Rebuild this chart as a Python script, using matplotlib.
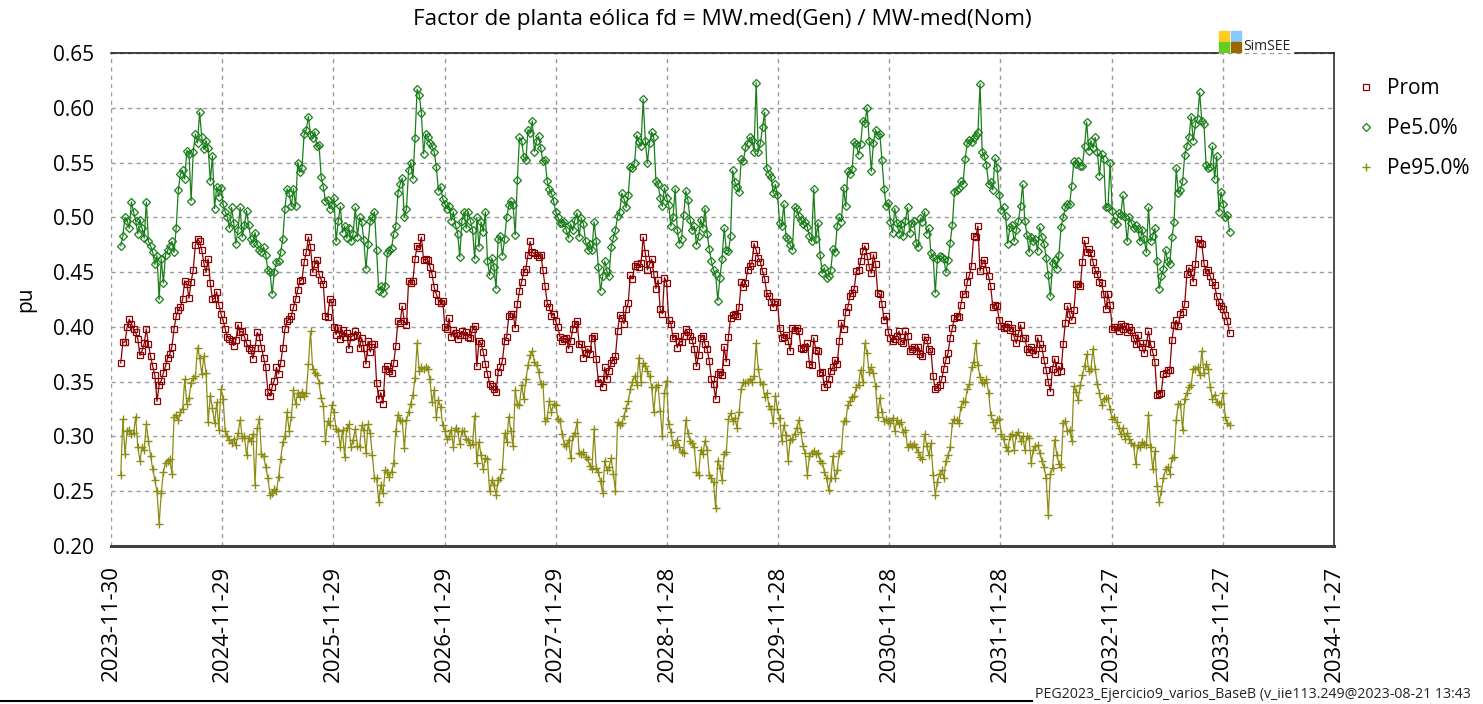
import numpy as np
import pandas as pd
import matplotlib
matplotlib.use("Agg")
import matplotlib.pyplot as plt
from matplotlib.lines import Line2D
from matplotlib.patches import Rectangle
from matplotlib.ticker import FormatStrFormatter

plt.rcParams['font.family'] = ['Open Sans', 'DejaVu Sans']

title = "Factor de planta eólica fd = MW.med(Gen) / MW-med(Nom)"
ylabel = "pu"
series_names = ["Prom", "Pe5.0%", "Pe95.0%"]
footer = "PEG2023_Ejercicio9_varios_BaseB (v_iie113.249@2023-08-21 13:43"
data_start = "2024-01-01"
tick_start = "2023-11-30"
n_ticks = 12
yticks = [0.20, 0.25, 0.30, 0.35, 0.40, 0.45, 0.50, 0.55, 0.60, 0.65]

prom = [
    .367, .386, .386, .400, .407, .403, .398, .395, .389, .374, .378, .385, .398, .384, .373, .364, .356, .332, .347, .351,
    .358, .364, .372, .375, .382, .398, .410, .415, .418, .425, .442, .439, .426, .441, .452, .475, .480, .478, .470, .458,
    .450, .462, .440, .425, .426, .432, .420, .412, .406, .398,
    .391, .389, .387, .383, .388, .402, .395, .396, .391, .385, .381, .379, .371, .381, .395, .391, .381, .372, .363, .341,
    .337, .345, .351, .363, .357, .367, .381, .398, .405, .407, .410, .418, .425, .434, .442, .443, .459, .468, .482, .473,
    .450, .457, .461, .448, .443, .439, .410, .409, .425, .423, .400, .393,
    .399, .389, .397, .391, .394, .380, .391, .392, .396, .393, .381, .390, .381, .366, .387, .377, .384, .384, .349, .334,
    .340, .330, .362, .364, .360, .358, .367, .383, .405, .404, .419, .405, .402, .442, .440, .442, .462, .474, .472, .482,
    .461, .462, .461, .455, .448, .436, .430, .424, .422, .424, .400, .398,
    .408, .391, .397, .394, .389, .393, .396, .393, .395, .391, .390, .398, .401, .364, .387, .385, .377, .366, .357, .348,
    .346, .343, .341, .359, .363, .369, .387, .391, .410, .412, .412, .399, .421, .433, .441, .450, .453, .466, .478, .468,
    .467, .466, .464, .466, .452, .437, .422, .418, .410, .412, .405,
    .400, .391, .387, .389, .390, .380, .387, .398, .403, .405, .384, .384, .372, .376, .380, .375, .390, .392, .371, .349,
    .352, .345, .363, .352, .360, .367, .370, .373, .396, .411, .408, .403, .416, .422, .447, .444, .456, .457, .455, .458,
    .482, .467, .452, .457, .462, .448, .435, .443, .416, .412, .445, .440,
    .406, .403, .390, .392, .381, .387, .386, .392, .398, .395, .392, .388, .380, .364, .374, .390, .392, .384, .380, .369,
    .352, .348, .334, .357, .359, .356, .382, .368, .391, .408, .411, .412, .410, .418, .441, .436, .440, .452, .456, .458,
    .476, .470, .463, .459, .451, .444, .431, .428, .423, .418, .423,
    .423, .399, .390, .391, .393, .387, .378, .399, .397, .399, .396, .381, .380, .382, .385, .366, .365, .390, .379, .378,
    .358, .359, .345, .348, .352, .360, .363, .370, .366, .387, .404, .398, .414, .418, .428, .431, .435, .451, .452, .460,
    .469, .474, .465, .455, .449, .466, .457, .431, .430, .421, .406, .410,
    .395, .390, .387, .389, .392, .396, .387, .385, .396, .392, .378, .380, .382, .378, .382, .375, .373, .391, .388, .380,
    .378, .355, .343, .345, .347, .352, .362, .370, .376, .390, .399, .408, .410, .409, .420, .430, .430, .441, .447, .456,
    .483, .482, .492, .451, .458, .461, .452, .446, .437, .418, .420,
    .419, .406, .401, .399, .400, .403, .397, .399, .391, .385, .394, .402, .390, .390, .380, .377, .382, .379, .375, .390,
    .384, .381, .370, .361, .350, .341, .362, .371, .359, .364, .360, .384, .404, .419, .412, .406, .415, .439, .439, .437,
    .459, .479, .468, .471, .467, .459, .452, .448, .441, .440, .430, .416,
    .430, .420, .398, .400, .400, .396, .403, .398, .401, .395, .400, .397, .390, .384, .393, .385, .382, .376, .385, .396,
    .384, .377, .368, .338, .339, .340, .357, .358, .361, .361, .388, .402, .406, .401, .412, .414, .421, .448, .454, .450,
    .441, .457, .480, .477, .476, .458, .450, .452, .446, .441, .438, .428, .423, .419, .416, .411, .405, .394,
]

pe5 = [
    .474, .483, .500, .497, .490, .514, .505, .497, .485, .498, .490, .481, .514, .478, .474, .468, .457, .465, .425, .462,
    .440, .466, .470, .474, .478, .468, .490, .525, .540, .543, .535, .561, .558, .515, .560, .576, .568, .596, .573, .562,
    .570, .563, .533, .556, .508, .528, .519, .527, .512, .505,
    .500, .490, .509, .495, .476, .488, .509, .482, .493, .506, .493, .480, .477, .486, .476, .470, .468, .473, .466, .452,
    .450, .430, .450, .459, .460, .468, .480, .508, .526, .522, .510, .526, .510, .550, .541, .545, .576, .580, .592, .575,
    .572, .578, .565, .566, .537, .528, .515, .516, .508, .511, .518, .478,
    .497, .510, .486, .492, .481, .490, .478, .485, .509, .482, .500, .496, .479, .453, .476, .497, .500, .505, .470, .433,
    .437, .431, .437, .467, .470, .472, .485, .492, .522, .530, .536, .500, .508, .543, .550, .535, .572, .617, .612, .595,
    .558, .576, .573, .568, .565, .560, .546, .524, .528, .517, .512, .508,
    .510, .497, .505, .493, .485, .464, .497, .505, .490, .505, .497, .488, .462, .500, .473, .496, .487, .505, .460, .447,
    .463, .455, .435, .480, .483, .465, .480, .500, .511, .515, .511, .484, .534, .573, .570, .555, .552, .580, .577, .588,
    .560, .570, .574, .563, .551, .552, .533, .526, .522, .515, .505,
    .500, .495, .495, .496, .488, .481, .494, .488, .498, .504, .482, .499, .494, .478, .470, .476, .470, .496, .478, .455,
    .433, .446, .460, .451, .446, .473, .481, .488, .501, .505, .522, .517, .509, .520, .546, .545, .550, .575, .569, .565,
    .608, .570, .550, .568, .578, .573, .533, .530, .518, .510, .527, .518,
    .511, .492, .500, .526, .488, .476, .480, .502, .524, .516, .498, .488, .492, .475, .483, .498, .490, .508, .485, .471,
    .460, .452, .448, .424, .445, .462, .490, .470, .469, .483, .543, .532, .528, .523, .553, .551, .564, .568, .573, .571,
    .560, .623, .560, .568, .582, .596, .545, .540, .537, .522, .530,
    .520, .495, .492, .512, .482, .480, .475, .470, .509, .508, .501, .498, .494, .496, .491, .483, .478, .526, .480, .495,
    .466, .449, .454, .445, .446, .452, .471, .468, .492, .500, .496, .527, .510, .542, .540, .544, .569, .567, .557, .567,
    .588, .586, .600, .570, .542, .568, .580, .575, .576, .552, .526, .510,
    .513, .496, .486, .508, .495, .485, .494, .483, .497, .509, .486, .495, .497, .477, .473, .499, .496, .505, .485, .490,
    .467, .464, .431, .462, .465, .464, .462, .450, .461, .477, .493, .523, .525, .527, .533, .530, .553, .568, .571, .569,
    .572, .575, .578, .622, .560, .556, .548, .530, .532, .525, .554,
    .545, .520, .507, .509, .501, .476, .491, .493, .478, .488, .497, .510, .530, .497, .484, .468, .482, .478, .480, .469,
    .491, .482, .476, .463, .447, .428, .458, .461, .453, .466, .491, .500, .509, .512, .512, .529, .551, .549, .551, .547,
    .547, .565, .587, .561, .570, .563, .573, .560, .538, .558, .553, .509,
    .509, .550, .506, .497, .494, .504, .502, .520, .500, .478, .500, .495, .490, .493, .489, .478, .488, .480, .468, .509,
    .478, .483, .490, .460, .435, .446, .453, .470, .460, .457, .482, .496, .545, .522, .525, .533, .557, .565, .573, .592,
    .570, .585, .590, .614, .588, .585, .548, .545, .546, .565, .535, .556, .505, .523, .512, .500, .502, .487,
]

pe95 = [
    .265, .316, .284, .305, .306, .302, .303, .318, .290, .278, .290, .288, .311, .296, .282, .270, .260, .250, .220, .248,
    .268, .276, .278, .279, .266, .318, .320, .315, .322, .325, .352, .330, .335, .349, .353, .355, .381, .372, .357, .373,
    .358, .313, .337, .326, .312, .331, .306, .343, .334, .305,
    .300, .297, .294, .298, .292, .303, .315, .299, .300, .283, .299, .296, .302, .256, .308, .316, .284, .282, .272, .262,
    .247, .248, .252, .250, .263, .279, .295, .300, .322, .305, .318, .342, .330, .340, .336, .341, .337, .340, .366, .396,
    .362, .358, .356, .349, .335, .328, .296, .314, .310, .329, .322, .307,
    .305, .290, .306, .281, .308, .311, .290, .297, .307, .291, .290, .310, .306, .285, .311, .303, .283, .262, .262, .240,
    .256, .248, .269, .268, .263, .268, .276, .305, .320, .315, .314, .289, .315, .322, .330, .338, .353, .385, .360, .363,
    .362, .363, .362, .352, .331, .342, .318, .333, .327, .310, .305, .298,
    .300, .306, .290, .308, .305, .293, .305, .305, .298, .297, .292, .293, .319, .276, .295, .283, .270, .280, .279, .250,
    .260, .256, .247, .260, .262, .270, .303, .295, .318, .305, .291, .342, .330, .329, .347, .334, .352, .365, .374, .378,
    .368, .365, .359, .348, .348, .314, .317, .332, .322, .330, .329,
    .316, .314, .302, .293, .291, .297, .280, .300, .303, .313, .285, .284, .286, .281, .279, .273, .270, .307, .271, .268,
    .259, .248, .278, .269, .272, .280, .266, .250, .313, .310, .312, .319, .326, .332, .343, .350, .355, .347, .372, .350,
    .367, .364, .360, .355, .345, .322, .345, .347, .323, .300, .340, .351,
    .311, .304, .292, .292, .297, .290, .286, .285, .315, .303, .296, .294, .290, .268, .265, .288, .284, .296, .288, .265,
    .262, .258, .235, .278, .271, .260, .284, .286, .316, .321, .314, .317, .308, .322, .343, .350, .349, .350, .352, .350,
    .355, .385, .362, .350, .348, .336, .340, .328, .325, .312, .337,
    .325, .317, .296, .310, .301, .278, .297, .298, .302, .308, .315, .304, .291, .285, .265, .282, .285, .287, .284, .285,
    .278, .276, .268, .262, .251, .262, .282, .262, .269, .285, .287, .314, .314, .329, .332, .336, .337, .345, .347, .361,
    .350, .385, .376, .359, .363, .358, .346, .318, .335, .322, .314, .316,
    .314, .312, .317, .305, .315, .311, .313, .304, .306, .290, .293, .291, .293, .290, .286, .281, .279, .302, .291, .283,
    .294, .265, .247, .258, .266, .269, .262, .278, .283, .290, .312, .316, .315, .312, .327, .332, .331, .343, .348, .363,
    .368, .385, .365, .354, .350, .349, .352, .340, .320, .313, .308,
    .315, .316, .302, .298, .290, .287, .300, .302, .288, .301, .304, .296, .300, .288, .300, .299, .276, .288, .291, .292,
    .285, .278, .272, .262, .228, .266, .271, .297, .283, .275, .272, .312, .314, .305, .306, .296, .346, .341, .333, .347,
    .356, .364, .375, .360, .362, .380, .362, .348, .340, .329, .334, .335,
    .335, .325, .316, .318, .313, .308, .302, .308, .298, .303, .298, .294, .292, .275, .292, .290, .295, .293, .292, .320,
    .290, .270, .287, .255, .240, .250, .262, .270, .272, .266, .280, .281, .315, .330, .330, .306, .334, .340, .345, .347,
    .362, .362, .363, .356, .378, .358, .366, .362, .345, .334, .338, .331, .330, .330, .340, .318, .312, .310,
]

W, H = 1483, 704
fig = plt.figure(figsize=(W / 100, H / 100), dpi=100)
ax_l, ax_r, ax_t, ax_b = 111, 1334, 53, 546
ax = fig.add_axes([ax_l / W, 1 - ax_b / H, (ax_r - ax_l) / W, (ax_b - ax_t) / H])


def weekly(n):
    return pd.date_range(data_start, periods=n, freq="7D")


styles = [
    dict(color="#8b0000", marker="s", ms=5, mfc="none", mew=0.9),
    dict(color="#1a7f1a", marker="D", ms=4.2, mfc="none", mew=0.9),
    dict(color="#8c8c14", marker="+", ms=6, mew=1.0),
]
for vals, st in zip([prom, pe5, pe95], styles):
    ax.plot(weekly(len(vals)), vals, lw=0.9, **st)

ticks = pd.date_range(tick_start, periods=n_ticks, freq="365D")
ax.set_xlim(ticks[0], ticks[-1])
ax.set_xticks(ticks)
ax.set_xticklabels([t.strftime("%Y-%m-%d") for t in ticks], rotation=90, fontsize=16)
ax.set_ylim(0.20, 0.65)
ax.set_yticks(yticks)
ax.yaxis.set_major_formatter(FormatStrFormatter("%.2f"))
ax.tick_params(axis="y", length=0, pad=12, labelsize=15)
ax.tick_params(axis="x", length=0, pad=14)
ax.grid(True, color="#9a9a9a", linestyle=(0, (3, 3)), linewidth=1.0)
ax.set_axisbelow(True)
ax.set_ylabel(ylabel, fontsize=15, labelpad=12)

ax.spines["left"].set_visible(False)
ax.spines["top"].set_visible(False)
ax.spines["right"].set_color("#303030")
ax.spines["right"].set_linewidth(1.2)
ax.spines["bottom"].set_color("#404040")
ax.spines["bottom"].set_linewidth(2.2)

# top border interrupted by the logo
for x0, x1 in [(ax_l, 1218), (1295, ax_r)]:
    fig.add_artist(Line2D([x0 / W, x1 / W], [1 - ax_t / H] * 2, color="#202020", lw=1.2,
                          transform=fig.transFigure))

# SimSEE logo
logo = [(1219, 31, "#ffcc22"), (1231, 31, "#88ccff"), (1219, 42, "#66cc22"), (1231, 42, "#996600")]
for x, y, c in logo:
    fig.add_artist(Rectangle((x / W, 1 - (y + 10) / H), 10 / W, 10 / H, color=c,
                             transform=fig.transFigure))
fig.text(1243 / W, 1 - 46 / H, "SimSEE", fontsize=10, va="center", ha="left", color="#222222")

fig.text((ax_l + ax_r) / 2 / W, 1 - 20 / H, title, ha="center", va="center", fontsize=16.2)

handles = [Line2D([], [], ls="none", **st) for st in styles]
handles[0].set_markersize(4.5)
handles[1].set_markersize(4.0)
fig.legend(handles, series_names, loc="upper left", bbox_to_anchor=(1357 / W, 1 - 78 / H),
           frameon=False, fontsize=15, handlelength=0.9, handletextpad=0.55, labelspacing=0.92,
           borderaxespad=0, borderpad=0)

fig.text(1035 / W, 1 - 694 / H, footer, fontsize=10.2, ha="left", va="center", color="#222222")
fig.add_artist(Line2D([0, 1032 / W], [1 - 701 / H] * 2, color="black", lw=1.5, transform=fig.transFigure))

fig.savefig("out.png", dpi=100)
